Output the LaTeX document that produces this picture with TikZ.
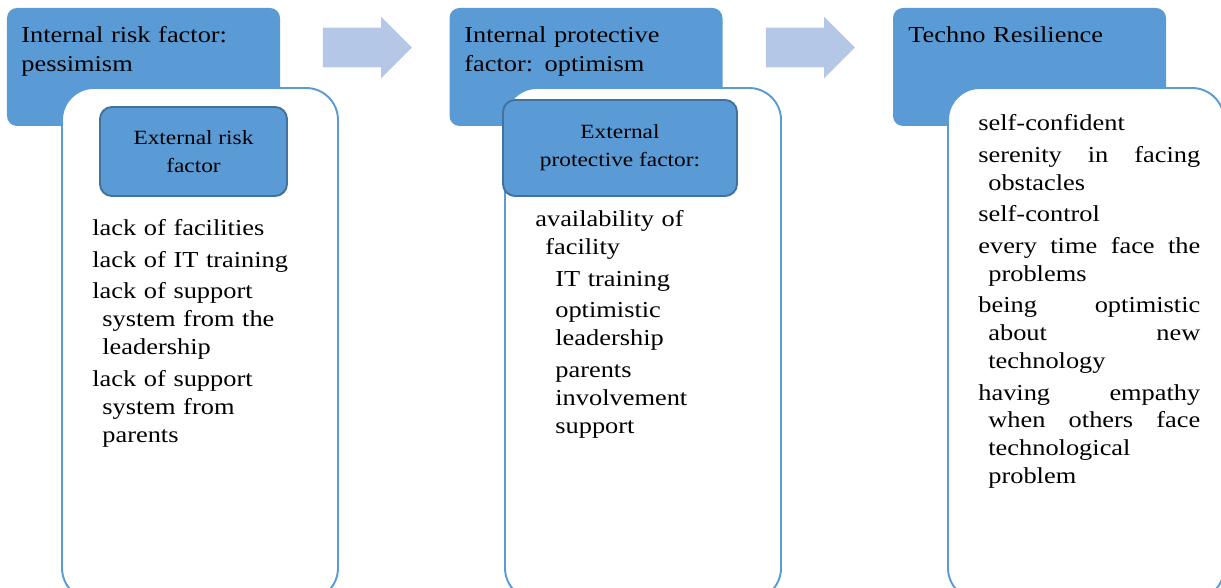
\documentclass[tikz,border=0pt]{standalone}
\usepackage{fontspec}
\setmainfont{Liberation Serif}[FakeStretch=1.155]
\usetikzlibrary{shapes.arrows}

\definecolor{boxblue}{HTML}{5B9BD5}
\definecolor{edgeblue}{HTML}{41719C}
\definecolor{arrowblue}{HTML}{B4C7E7}

% one paragraph per item, later lines hang
\newcommand{\entry}[1]{\hangindent=0.2cm\hangafter=1\relax #1\par}
\newcommand{\subentry}[1]{\leftskip=0.4cm\relax #1\par}

\tikzset{
    headbox/.style={fill=boxblue, rounded corners=0.2cm, minimum width=5.46cm, minimum height=2.36cm, inner sep=0pt},
    listbox/.style={draw=boxblue, line width=1.1pt, fill=white, rounded corners=0.64cm, minimum width=5.52cm, minimum height=10.24cm, inner sep=0pt},
    extbox/.style={draw=edgeblue, line width=1.1pt, fill=boxblue, rounded corners=0.24cm, inner sep=0pt, align=center, font=\fontsize{11.5}{16}\selectfont},
    headtext/.style={anchor=base west, inner sep=0pt, text width=5cm, align=left, font=\fontsize{13}{16.4}\selectfont},
    listtext/.style={anchor=base west, inner sep=0pt, align=left, font=\fontsize{13}{15.9}\selectfont},
    flow/.style={single arrow, fill=arrowblue, minimum height=1.78cm, inner xsep=0pt, inner ysep=0.39cm, single arrow head extend=0.22cm}
}

\begin{document}
\begin{tikzpicture}[y=-1cm]
    \useasboundingbox (0,0) rectangle (24.42,11.76);
    \clip (0,0) rectangle (24.42,11.76);

    % heading boxes
    \node[headbox] at (2.87, 1.34) (int1) {};
    \node[headbox] at (11.72, 1.34) (int2) {};
    \node[headbox] at (20.59, 1.34) (res) {};
    \node[headtext] at (0.42, 0.86) (int1t) {Internal risk factor:\\pessimism};
    \node[headtext] at (9.28, 0.86) (int2t) {Internal protective\\factor: optimism};
    \node[headtext] at (18.16, 0.86) (rest) {Techno Resilience};

    % white list boxes
    \node[listbox] at (4.00, 6.88) (box1) {};
    \node[listbox] at (12.86, 6.88) (box2) {};
    \node[listbox] at (21.72, 6.88) (box3) {};

    % external factors
    \node[extbox, minimum width=3.74cm, minimum height=1.78cm] at (3.87, 3.03) (ext1) {External risk\\factor};
    \node[extbox, minimum width=4.68cm, minimum height=1.92cm] at (12.40, 2.96) (ext2) {External\\protective factor:};

    % lists
    \node[listtext, text width=4.4cm] at (1.84, 4.72) (list1) {\setlength{\parskip}{2pt}%
        \entry{lack of facilities}%
        \entry{lack of IT training}%
        \entry{lack of support\newline system from the\newline leadership}%
        \entry{lack of support\newline system from\newline parents}};
    \node[listtext, text width=4.1cm] at (10.70, 4.54) (list2) {\setlength{\parskip}{2pt}%
        \entry{availability of\newline facility}%
        \subentry{IT training}%
        \subentry{optimistic\newline leadership}%
        \subentry{parents\newline involvement\newline support}};
    \node[listtext, text width=4.44cm, align=justify] at (19.56, 2.62) (list3) {\setlength{\parskip}{2pt}%
        \entry{self-confident}%
        \entry{serenity in facing\linebreak obstacles}%
        \entry{self-control}%
        \entry{every time face the\linebreak problems}%
        \entry{being optimistic\linebreak about new\linebreak technology}%
        \entry{having empathy\linebreak when others face\linebreak technological\newline problem}};

    % block arrows
    \node[flow] at (7.15, 0.95) (arr1) {};
    \node[flow] at (16.01, 0.95) (arr2) {};
\end{tikzpicture}
\end{document}
